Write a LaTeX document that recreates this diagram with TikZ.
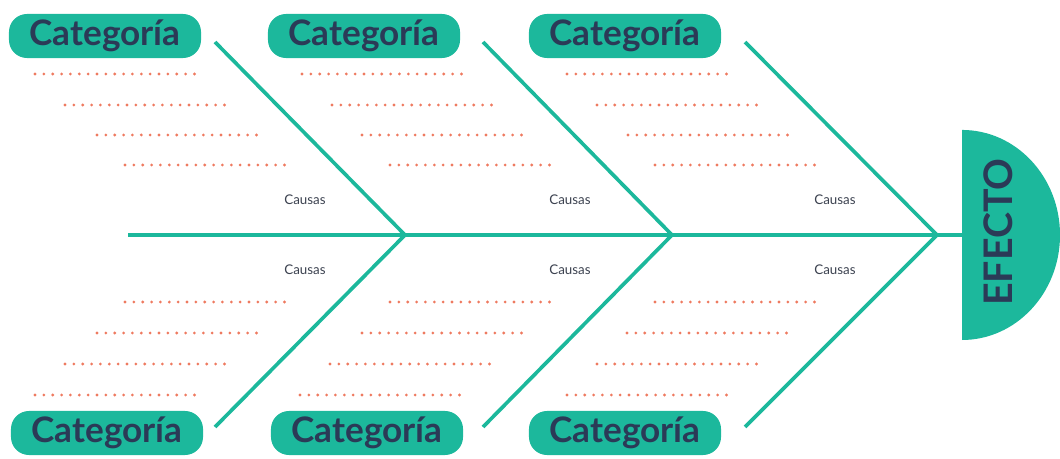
\documentclass[tikz,border=0pt]{standalone}
\usepackage{fontspec}
\setmainfont{Lato}
\usepackage{tikz}

\definecolor{fishteal}{HTML}{1CB89C}
\definecolor{fishink}{HTML}{2B3A57}
\definecolor{dotred}{HTML}{EE7A60}
\definecolor{causagray}{HTML}{3C4250}

\begin{document}
\begin{tikzpicture}[x=0.025cm,y=-0.025cm,
  every node/.style={outer sep=0pt},
  categoria/.style={fill=fishteal, rounded corners=0.45cm, minimum width=4.8cm, minimum height=1.1cm, inner sep=0pt, text=fishink, font=\fontsize{25}{29}\selectfont\bfseries},
  causa/.style={text=causagray, font=\fontsize{9.5}{11}\selectfont},
  espina/.style={draw=fishteal, line width=2.6pt},
  puntos/.style={draw=dotred, line width=2.2pt, line cap=round, dash pattern=on 0pt off 6.3pt}]
\useasboundingbox (0,0) rectangle (1060,459);

% categorias
\node[categoria] (cat1) at (105,36) {Categoría};
\node[categoria] (cat2) at (364,36) {Categoría};
\node[categoria] (cat3) at (625,36) {Categoría};
\node[categoria] (cat4) at (107,433) {Categoría};
\node[categoria] (cat5) at (367,433) {Categoría};
\node[categoria] (cat6) at (625,433) {Categoría};

% efecto
\coordinate (base) at (962,235);
\fill[fishteal] (962,130) -- (962,340) arc[start angle=-90, end angle=90, x radius=2.45cm, y radius=2.625cm] -- cycle;
\node[rotate=90, text=fishink, font=\fontsize{28}{32}\selectfont\bfseries] (efecto) at (998,232) {EFECTO};

% espinas
\coordinate (cola) at (128,235);
\coordinate (j1) at (405,235);
\coordinate (j2) at (672,235);
\coordinate (j3) at (937,235);
\coordinate (t1) at (215,42);
\coordinate (t2) at (483,42);
\coordinate (t3) at (745,42);
\coordinate (b1) at (215,427);
\coordinate (b2) at (483,427);
\coordinate (b3) at (745,427);
\draw[espina] (cola) -- (base);
\draw[espina] (t1) -- (j1) -- (b1);
\draw[espina] (t2) -- (j2) -- (b2);
\draw[espina] (t3) -- (j3) -- (b3);

% causas
\node[causa] (ca1) at (305,200) {Causas};
\node[causa] (ca2) at (570,200) {Causas};
\node[causa] (ca3) at (835,200) {Causas};
\node[causa] (ca4) at (305,270) {Causas};
\node[causa] (ca5) at (570,270) {Causas};
\node[causa] (ca6) at (835,270) {Causas};

% puntos arriba
\draw[puntos] (35,74) -- (200,74);
\draw[puntos] (65,105) -- (230,105);
\draw[puntos] (97,135) -- (262,135);
\draw[puntos] (125,165) -- (290,165);

\draw[puntos] (302,74) -- (467,74);
\draw[puntos] (332,105) -- (497,105);
\draw[puntos] (362,135) -- (527,135);
\draw[puntos] (390,165) -- (555,165);

\draw[puntos] (567,74) -- (732,74);
\draw[puntos] (597,105) -- (762,105);
\draw[puntos] (628,135) -- (793,135);
\draw[puntos] (655,165) -- (820,165);

% puntos abajo
\draw[puntos] (125,302) -- (290,302);
\draw[puntos] (97,333) -- (262,333);
\draw[puntos] (65,364) -- (230,364);
\draw[puntos] (35,395) -- (200,395);

\draw[puntos] (390,302) -- (555,302);
\draw[puntos] (362,333) -- (527,333);
\draw[puntos] (330,364) -- (495,364);
\draw[puntos] (300,395) -- (465,395);

\draw[puntos] (655,302) -- (820,302);
\draw[puntos] (627,333) -- (792,333);
\draw[puntos] (597,364) -- (762,364);
\draw[puntos] (567,395) -- (732,395);
\end{tikzpicture}
\end{document}
